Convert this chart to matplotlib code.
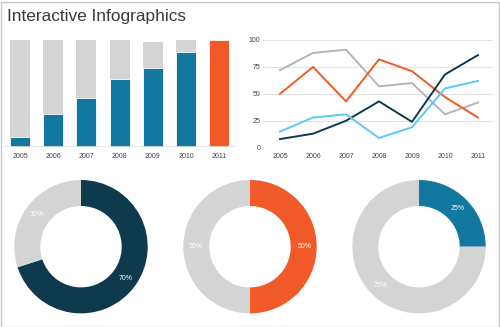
import numpy as np
import matplotlib
matplotlib.use("Agg")
import matplotlib.pyplot as plt
from matplotlib.patches import Rectangle

plt.rcParams['font.family'] = ['Liberation Sans', 'DejaVu Sans']

# data
years = ['2005', '2006', '2007', '2008', '2009', '2010', '2011']
bar_total = [100, 100, 100, 100, 98, 100, 100]
bar_value = [9, 31, 46, 64, 74, 89, 100]

line_years = [2005, 2006, 2007, 2008, 2009, 2010, 2011]
gray_line = [72, 88, 91, 57, 60, 31, 42]
orange_line = [50, 75, 43, 82, 71, 47, 28]
navy_line = [8, 13, 25, 43, 24, 68, 86]
sky_line = [15, 28, 31, 9, 19, 55, 62]

donut1 = [70, 30]
donut2 = [50, 50]
donut3 = [25, 75]

NAVY = '#0f3a4e'
BLUE = '#13789f'
ORANGE = '#f05a28'
LGRAY = '#d4d4d4'
SKY = '#5cc8f5'
LINEGRAY = '#b4b4b4'
TXT = '#444444'

W, H = 500, 327
fig = plt.figure(figsize=(5, 3.27), dpi=100)
fig.patch.set_facecolor('white')


def px_axes(left, top, width, height):
    return fig.add_axes([left / W, 1 - (top + height) / H, width / W, height / H])


fig.text(7 / W, 1 - 21 / H, 'Interactive Infographics', fontsize=12.4, color='#3a3a3a')

# stacked bars
ax1 = px_axes(3.4, 40, 232.4, 107)
x = np.arange(len(years))
bar_colors = [BLUE] * 6 + [ORANGE]
ax1.bar(x, bar_total, width=0.6, color=LGRAY, edgecolor='none')
ax1.bar(x, bar_value, width=0.6, color=bar_colors, edgecolor='white', linewidth=0.6)
ax1.set_xlim(-0.5, 6.5)
ax1.set_ylim(0, 100)
ax1.axhline(0, color='#e2e2e2', lw=1.2)
ax1.set_xticks(x)
ax1.set_xticklabels(years, fontsize=5, color=TXT)
ax1.tick_params(length=0, pad=4)
ax1.set_yticks([])
for s in ax1.spines.values():
    s.set_visible(False)

# line chart
ax2 = px_axes(263, 40, 230, 107.7)
ax2.plot(line_years, gray_line, color=LINEGRAY, lw=1.4)
ax2.plot(line_years, orange_line, color=ORANGE, lw=1.4)
ax2.plot(line_years, navy_line, color=NAVY, lw=1.4)
ax2.plot(line_years, sky_line, color=SKY, lw=1.4)
ax2.set_xlim(2005 - 17 / 33, 2011 + 15 / 33)
ax2.set_ylim(0, 100)
ax2.set_yticks([0, 25, 50, 75, 100])
ax2.set_xticks(line_years)
ax2.set_xticklabels(years)
ax2.tick_params(length=0, labelsize=5, colors=TXT)
ax2.tick_params(axis='y', pad=2)
ax2.tick_params(axis='x', pad=4)
ax2.grid(axis='y', color='#e4e4e4', lw=0.8)
ax2.set_axisbelow(True)
for s in ax2.spines.values():
    s.set_visible(False)

# donuts
def donut(cx, cy, r, vals, cols):
    ax = px_axes(cx - r, cy - r, 2 * r, 2 * r)
    wedges, texts, autotexts = ax.pie(vals, colors=cols, startangle=90, counterclock=False,
                                      wedgeprops=dict(width=0.39, edgecolor='none'),
                                      autopct='%d%%', pctdistance=0.82,
                                      textprops=dict(color='white', fontsize=5))
    ax.set_xlim(-1, 1)
    ax.set_ylim(-1, 1)
    ax.set_aspect('equal')
    ax.axis('off')


donut(81, 246.7, 66.7, donut1, [NAVY, LGRAY])
donut(250, 246.7, 66.7, donut2, [ORANGE, LGRAY])
donut(419, 246.7, 66.7, donut3, [BLUE, LGRAY])

fig.add_artist(Rectangle((0.5 / W, 0.5 / H), (W - 2) / W, (H - 2) / H, transform=fig.transFigure,
                         fill=False, edgecolor='#c8c8c8', lw=1))

fig.savefig('out.png', dpi=100)
